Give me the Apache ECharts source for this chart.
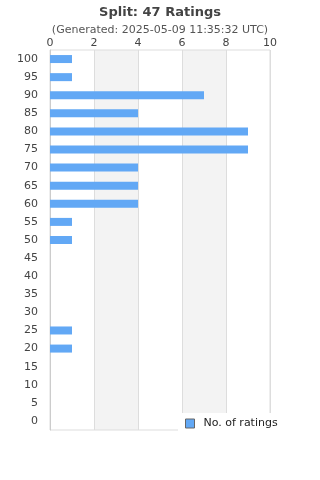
<!DOCTYPE html>
<html><head><meta charset="utf-8">
<script src="https://cdn.jsdelivr.net/npm/echarts@6/dist/echarts.min.js"></script>
<style>html,body{margin:0;padding:0;background:#fff}#c{width:320px;height:480px}</style>
</head><body><div id="c"></div>
<script>
const categories = ['0','5','10','15','20','25','30','35','40','45','50','55','60','65','70','75','80','85','90','95','100'];
const counts = [0,0,0,0,1,1,0,0,0,0,1,1,4,4,4,9,9,4,7,1,1];
const xTicks = [0,2,4,6,8,10];
const bands = [];
for (let i = 1; i + 1 < xTicks.length; i += 2) bands.push([{xAxis:xTicks[i]},{xAxis:xTicks[i+1]}]);
const chart = echarts.init(document.getElementById('c'));
chart.setOption({
  animation:false,
  title:{text:'Split: 47 Ratings',subtext:'(Generated: 2025-05-09 11:35:32 UTC)',left:'center',top:1,
    textStyle:{fontSize:13,fontWeight:'bold',color:'#444',fontFamily:'DejaVu Sans'},
    subtextStyle:{fontSize:11,color:'#555',fontFamily:'DejaVu Sans'},itemGap:6},
  legend:{data:['No. of ratings'],left:178,top:413,backgroundColor:'#fff',padding:[5,10,5,7],
    itemWidth:9,itemHeight:9,icon:'rect',
    itemStyle:{borderColor:'#666',borderWidth:1},
    textStyle:{fontSize:11,color:'#222',fontFamily:'DejaVu Sans',padding:[0,0,0,4]}},
  grid:{left:50,right:50,top:50,bottom:50,show:true,borderColor:'#ddd',borderWidth:1,backgroundColor:'transparent'},
  xAxis:{type:'value',position:'top',min:xTicks[0],max:xTicks[xTicks.length-1],interval:2,
    axisLine:{show:false},axisTick:{show:false},
    axisLabel:{fontSize:11,color:'#444',fontFamily:'DejaVu Sans',margin:1},
    splitLine:{show:true,lineStyle:{color:'#ddd'}},
    splitArea:{show:false}},
  yAxis:{type:'category',data:categories,
    axisLine:{show:true,lineStyle:{color:'#ccc'}},axisTick:{show:false},
    axisLabel:{fontSize:11,color:'#444',fontFamily:'DejaVu Sans',margin:12,interval:0}},
  series:[{name:'No. of ratings',type:'bar',data:counts.map(v => v === 0 ? '-' : v),barWidth:8,
    itemStyle:{color:'#62a8f5'},
    markArea:{silent:true,z:-1,itemStyle:{color:'#f3f3f3'},data:bands}}]
});
</script></body></html>
